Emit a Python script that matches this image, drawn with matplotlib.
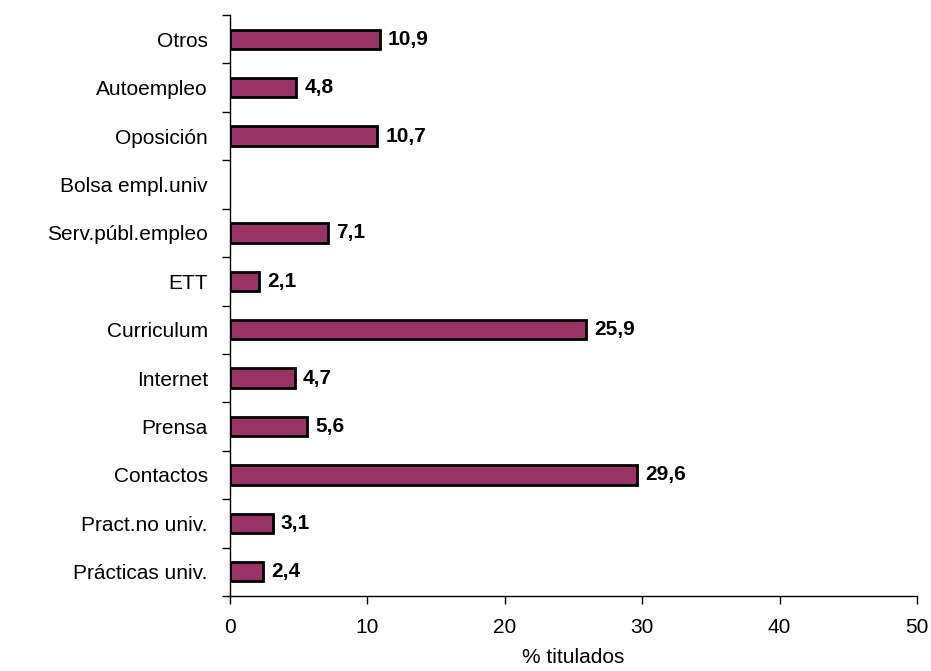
import numpy as np
import matplotlib
matplotlib.use("Agg")
import matplotlib.pyplot as plt
from matplotlib.ticker import FixedLocator

categories = ["Prácticas univ.", "Pract.no univ.", "Contactos", "Prensa", "Internet",
              "Curriculum", "ETT", "Serv.públ.empleo", "Bolsa empl.univ", "Oposición",
              "Autoempleo", "Otros"]
values = [2.4, 3.1, 29.6, 5.6, 4.7, 25.9, 2.1, 7.1, np.nan, 10.7, 4.8, 10.9]
labels = ["2,4", "3,1", "29,6", "5,6", "4,7", "25,9", "2,1", "7,1", "", "10,7", "4,8", "10,9"]
xticks = [0, 10, 20, 30, 40, 50]

plt.rcParams['font.family'] = ['Liberation Sans', 'DejaVu Sans']
FS = 15

fig = plt.figure(figsize=(9.31, 6.71), dpi=100)
ax = fig.add_axes([230/931, 1-596/671, (917-230)/931, (596-15)/671])

y = np.arange(len(categories))
vals = np.array(values, dtype=float)
mask = ~np.isnan(vals)
ax.barh(y[mask], vals[mask], height=0.4, color="#993366", edgecolor="black", linewidth=2)
for yi, v, lab in zip(y, vals, labels):
    if not np.isnan(v) and lab:
        ax.annotate(lab, (v, yi), xytext=(6, 0), textcoords="offset points",
                    va="center", ha="left", fontsize=FS, fontweight="bold")

ax.set_xlim(0, 50)
ax.set_ylim(-0.5, len(categories) - 0.5)
ax.set_xticks(xticks)
ax.set_xticklabels([str(t) for t in xticks], fontsize=FS)
ax.set_yticks(y)
ax.set_yticklabels(categories, fontsize=FS)
ax.yaxis.set_minor_locator(FixedLocator(np.arange(-0.5, len(categories), 1.0)))
ax.tick_params(axis="y", which="major", length=0, pad=16)
ax.tick_params(axis="y", which="minor", length=6, width=1, direction="out")
ax.tick_params(axis="x", which="major", length=6, width=1, direction="out", pad=10)
for s in ["top", "right"]:
    ax.spines[s].set_visible(False)
ax.spines["left"].set_linewidth(1)
ax.spines["bottom"].set_linewidth(1)
ax.set_xlabel("% titulados", fontsize=FS, labelpad=8)

fig.savefig("out.png", dpi=100)
